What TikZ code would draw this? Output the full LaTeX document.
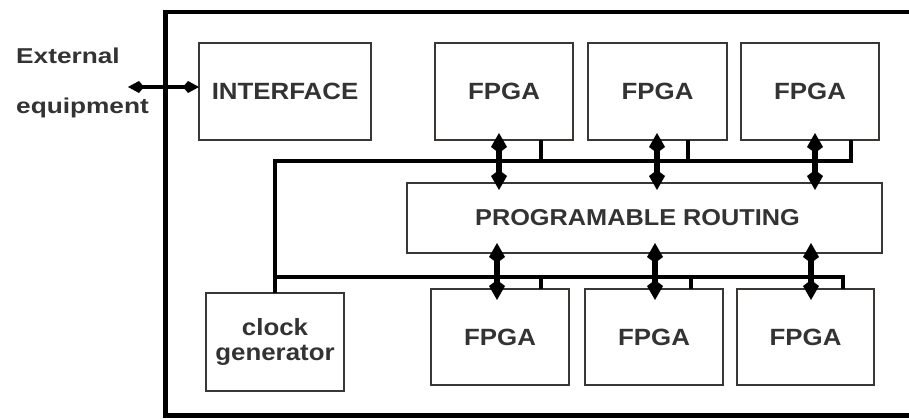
\documentclass[tikz,border=0pt]{standalone}
\usepackage{fontspec}
\setmainfont{Liberation Sans}[FakeStretch=1.1]
\newfontfamily\widesans{Liberation Sans}[FakeStretch=1.22]
\usetikzlibrary{arrows.meta}
\definecolor{ink}{HTML}{333333}
\definecolor{edge}{HTML}{3A3633}
\tikzset{
  box/.style={draw=edge, line width=1.8pt, inner sep=0pt, outer sep=0pt,
    align=center, text=ink, font=\fontsize{23.5}{25}\selectfont\bfseries},
  lbl/.style={inner sep=0pt, text=ink, font=\widesans\fontsize{21.5}{24}\selectfont\bfseries},
  bus/.style={line width=4pt, black},
  dbl/.style={line width=6.5pt, black,
    {Kite[length=20pt,width=16pt,inset=6pt]}-{Kite[length=20pt,width=16pt,inset=6pt]}},
  extarrow/.style={line width=4.5pt, black,
    {Kite[length=16pt,width=12pt,inset=5pt]}-{Kite[length=16pt,width=12pt,inset=5pt]}}
}
\begin{document}
\begin{tikzpicture}[x=1pt,y=-1pt]
  \clip (0,0) rectangle (909,419);
  \fill[white] (0,0) rectangle (909,419);

  % system frame, open past the right edge
  \draw[line width=4.5pt] (165.5,12) rectangle (960,415.5);

  % blocks
  \node[box, minimum width=172pt, minimum height=97pt] (iface) at (285,91.5) {INTERFACE};
  \node[box, minimum width=138pt, minimum height=97pt] (t1) at (504,91.5) {FPGA};
  \node[box, minimum width=139pt, minimum height=97pt] (t2) at (657.5,91.5) {FPGA};
  \node[box, minimum width=138pt, minimum height=97pt] (t3) at (810,91.5) {FPGA};
  \node[box, minimum width=475pt, minimum height=70pt, font=\fontsize{23}{25}\selectfont\bfseries]
    (route) at (644.5,218) {PROGRAMABLE ROUTING\hspace*{14pt}};
  \node[box, minimum width=138pt, minimum height=98pt] (clk) at (275,342) {clock\\generator};
  \node[box, minimum width=138pt, minimum height=96pt] (b1) at (500,337) {FPGA};
  \node[box, minimum width=138pt, minimum height=96pt] (b2) at (654,337) {FPGA};
  \node[box, minimum width=137pt, minimum height=96pt] (b3) at (805.5,337) {FPGA};

  % external label
  \node[lbl, anchor=base west] (extA) at (16,64) {External};
  \node[lbl, anchor=base west] (extB) at (16,114) {equipment};
  \coordinate (ext) at (128,87);
  \draw[extarrow] (ext) -- (iface.west |- ext);

  % clock distribution buses
  \coordinate (s1) at (541,161);
  \coordinate (s2) at (688,161);
  \coordinate (s3) at (851,161);
  \draw[bus] (clk.north) |- (s3) -- (t3.south -| s3);
  \draw[bus] (s1) -- (t1.south -| s1);
  \draw[bus] (s2) -- (t2.south -| s2);

  \coordinate (u1) at (541,277);
  \coordinate (u2) at (691,277);
  \coordinate (u3) at (843,277);
  \draw[bus] (clk.north |- u1) -- (u3) -- (b3.north -| u3);
  \draw[bus] (u1) -- (b1.north -| u1);
  \draw[bus] (u2) -- (b2.north -| u2);

  % data links to the routing fabric
  \coordinate (a1) at (499,0);
  \coordinate (a2) at (657,0);
  \coordinate (a3) at (815,0);
  \foreach \a/\t in {a1/t1, a2/t2, a3/t3}
    \draw[dbl, shorten <=-7pt, shorten >=-7pt] (\t.south -| \a) -- (route.north -| \a);

  \coordinate (c1) at (497,0);
  \coordinate (c2) at (655,0);
  \coordinate (c3) at (811,0);
  \foreach \c/\b in {c1/b1, c2/b2, c3/b3}
    \draw[dbl, shorten <=-10pt, shorten >=-11pt] (route.south -| \c) -- (\b.north -| \c);
\end{tikzpicture}
\end{document}
